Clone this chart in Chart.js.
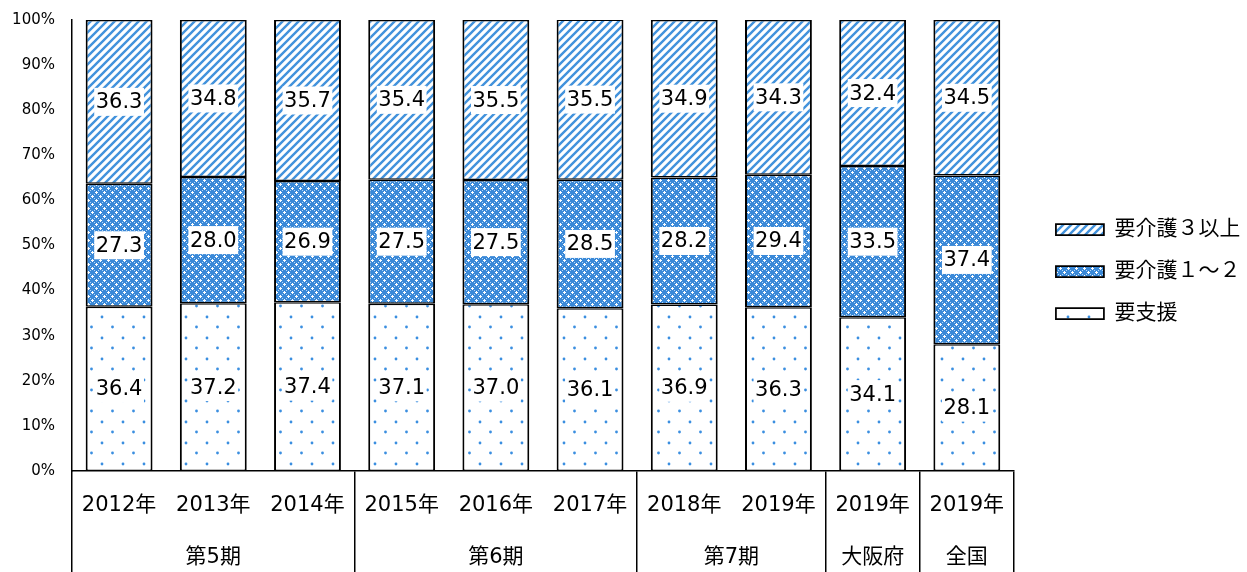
<!DOCTYPE html>
<html>
<head>
<meta charset="utf-8">
<script src="https://cdn.jsdelivr.net/npm/chart.js@4.4.1/dist/chart.umd.min.js"></script>
<style>
html,body{margin:0;padding:0;background:#fff;}
#wrap{width:1247px;height:572px;position:relative;}
</style>
</head>
<body>
<div id="wrap"><canvas id="c" width="1247" height="572"></canvas></div>
<script>
// ---- data ----
const categories = ['2012年','2013年','2014年','2015年','2016年','2017年','2018年','2019年','2019年','2019年'];
const groupLabels = ['第5期','第6期','第7期','大阪府','全国'];
const groupSizes = [3,3,2,1,1];
const seriesNames = ['要支援','要介護１～２','要介護３以上'];
const shienValues  = [36.4,37.2,37.4,37.1,37.0,36.1,36.9,36.3,34.1,28.1];
const kaigo12Values = [27.3,28.0,26.9,27.5,27.5,28.5,28.2,29.4,33.5,37.4];
const kaigo3Values  = [36.3,34.8,35.7,35.4,35.5,35.5,34.9,34.3,32.4,34.5];
const yTickValues = [0,10,20,30,40,50,60,70,80,90,100];

// ---- derived group info ----
const groupBounds = [0];
groupSizes.forEach(s => groupBounds.push(groupBounds[groupBounds.length-1] + s));
// group axis: two slots per category (offset false) so every group centre lands on a slot
const groupSlotLabels = new Array(categories.length*2 + 1).fill('');
groupSizes.forEach((s,i) => { groupSlotLabels[groupBounds[i]*2 + s] = groupLabels[i]; });

const FONT = '"DejaVu Sans", "Noto Sans CJK JP", sans-serif';
Chart.defaults.font.family = FONT;
Chart.defaults.color = '#000';

// ---- patterns ----
function makePattern(w, h, draw) {
  const c = document.createElement('canvas');
  c.width = w; c.height = h;
  const g = c.getContext('2d');
  draw(g, w, h);
  return document.getElementById('c').getContext('2d').createPattern(c, 'repeat');
}
const stripePattern = makePattern(8, 8, (g) => {
  g.fillStyle = '#ffffff'; g.fillRect(0,0,8,8);
  g.strokeStyle = '#4292dc'; g.lineWidth = 2.4;
  g.beginPath();
  g.moveTo(-4,12); g.lineTo(12,-4);
  g.moveTo(-8,8); g.lineTo(8,-8);
  g.moveTo(0,16); g.lineTo(16,0);
  g.stroke();
});
const crossPattern = makePattern(8, 8, (g) => {
  g.fillStyle = '#3a89d8'; g.fillRect(0,0,8,8);
  g.fillStyle = '#ffffff';
  [[0,0],[4,4]].forEach(([x,y]) => {
    g.fillRect(x,y,1,1);
    g.fillRect((x+1)%8,y,1,1); g.fillRect((x+7)%8,y,1,1);
    g.fillRect(x,(y+1)%8,1,1); g.fillRect(x,(y+7)%8,1,1);
  });
  g.fillStyle = '#b4d6f5';
  [[2,2],[6,6],[2,6],[6,2]].forEach(([x,y]) => g.fillRect(x,y,1,1));
});
const dotPattern = makePattern(21, 21, (g) => {
  g.fillStyle = '#ffffff'; g.fillRect(0,0,21,21);
  g.fillStyle = '#3a8ee0';
  [[7.5,12],[18,2]].forEach(([x,y]) => { g.beginPath(); g.arc(x,y,1.4,0,Math.PI*2); g.fill(); });
});

// ---- data label plugin (labels at segment centres, white box behind) ----
const labelPlugin = {
  id: 'segLabels',
  afterDatasetsDraw(chart) {
    const ctx = chart.ctx;
    ctx.save();
    ctx.font = '21px ' + FONT;
    ctx.textAlign = 'center';
    ctx.textBaseline = 'middle';
    chart.data.datasets.forEach((ds, di) => {
      const meta = chart.getDatasetMeta(di);
      meta.data.forEach((el, i) => {
        const p = el.getProps(['x','y','base'], true);
        const cy = (p.y + p.base) / 2;
        const txt = ds.data[i].toFixed(1);
        const w = ctx.measureText(txt).width + 3;
        ctx.fillStyle = '#ffffff';
        ctx.fillRect(p.x - w/2, cy - 14, w, 28);
        ctx.fillStyle = '#000';
        ctx.fillText(txt, p.x, cy + 1);
      });
    });
    ctx.restore();
  }
};

function noPad(s) { s.paddingTop = 0; s.paddingBottom = 0; s.paddingLeft = 0; s.paddingRight = 0; }

const bw = {top:1.5, bottom:1.5, left:2, right:2};
new Chart(document.getElementById('c'), {
  type: 'bar',
  data: {
    labels: categories,
    datasets: [
      {label: seriesNames[0], data: shienValues, backgroundColor: dotPattern, borderColor: '#000', borderWidth: bw, borderSkipped: false},
      {label: seriesNames[1], data: kaigo12Values, backgroundColor: crossPattern, borderColor: '#000', borderWidth: bw, borderSkipped: false},
      {label: seriesNames[2], data: kaigo3Values, backgroundColor: stripePattern, borderColor: '#000', borderWidth: bw, borderSkipped: false}
    ]
  },
  plugins: [labelPlugin],
  options: {
    responsive: false,
    animation: false,
    devicePixelRatio: 1,
    layout: {padding: {top: 20, left: 12, right: 7.5, bottom: 0}},
    datasets: {bar: {categoryPercentage: 1, barPercentage: 0.71}},
    plugins: {
      tooltip: {enabled: false},
      legend: {
        position: 'right',
        fullSize: false,
        align: 'center',
        reverse: true,
        title: {display: true, text: ' ', font: {size: 12}, padding: {top: 0, bottom: 37.6}},
        labels: {boxWidth: 48, boxHeight: 11, padding: 21, font: {size: 21}, color: '#000'}
      }
    },
    scales: {
      x: {
        stacked: true,
        position: 'bottom',
        grid: {
          display: true, drawOnChartArea: false, offset: true, tickLength: 101,
          color: c => (c.index === undefined || groupBounds.includes(c.index)) ? '#000' : 'rgba(0,0,0,0)',
          lineWidth: 1.5
        },
        border: {display: true, color: '#000', width: 1.5},
        ticks: {padding: -78.6, font: {size: 21}, color: '#000', maxRotation: 0, autoSkip: false},
        afterFit: s => { s.height = 50; noPad(s); }
      },
      grp: {
        type: 'category',
        labels: groupSlotLabels,
        position: 'bottom',
        offset: false,
        grid: {display: false, drawTicks: false},
        border: {display: false},
        ticks: {padding: 24.4, font: {size: 21}, color: '#000', autoSkip: false, maxRotation: 0},
        afterFit: s => { s.height = 51; noPad(s); }
      },
      y: {
        stacked: true,
        min: 0, max: 100,
        afterBuildTicks: s => { s.ticks = yTickValues.map(v => ({value: v})); },
        ticks: {callback: v => v + '%', padding: 17, font: {size: 15}, color: '#000'},
        grid: {display: false, drawTicks: false},
        border: {display: true, color: '#000', width: 1.5},
        afterFit: s => { s.width = 60; noPad(s); }
      },
      yR: {
        type: 'linear',
        position: 'right',
        display: true,
        grid: {display: false, drawTicks: false},
        border: {display: false},
        ticks: {display: false},
        afterFit: s => { s.width = 21; noPad(s); }
      }
    }
  }
});
</script>
</body>
</html>
